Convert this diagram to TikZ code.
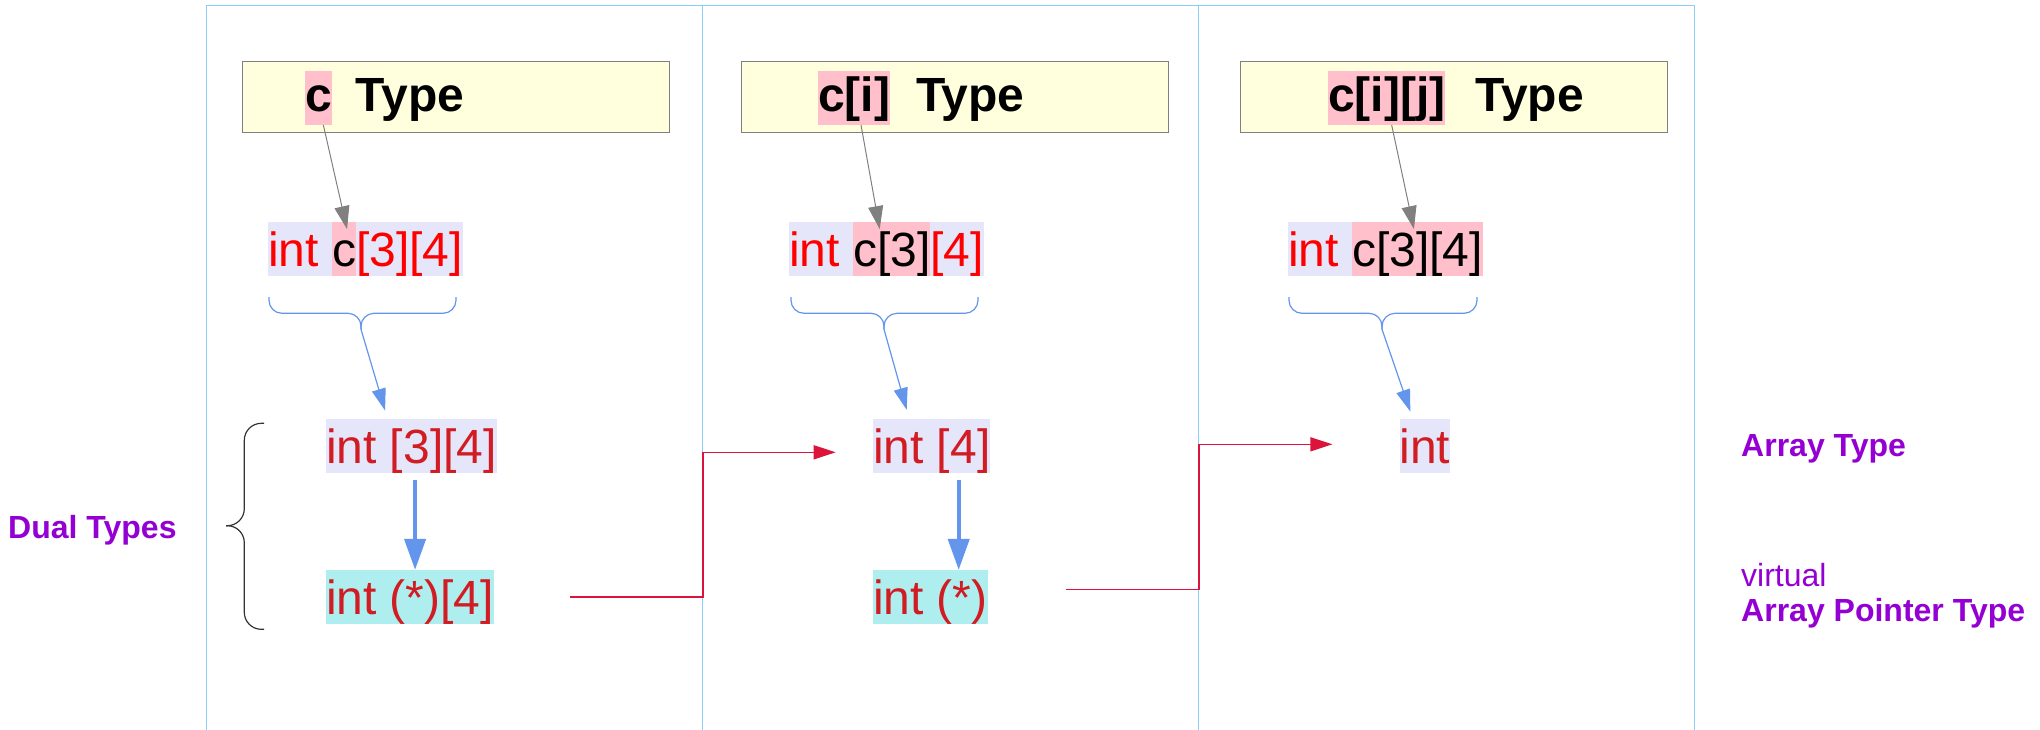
\documentclass[tikz,border=0pt]{standalone}
\usepackage{fontspec}
\setmainfont{Liberation Sans}
\usetikzlibrary{arrows.meta,positioning}
\definecolor{panelblue}{HTML}{87CEFA}
\definecolor{titleyellow}{HTML}{FFFFDD}
\definecolor{lav}{HTML}{E6E6FA}
\definecolor{pinkhl}{HTML}{FFC0CB}
\definecolor{turq}{HTML}{AFEEEE}
\definecolor{darkred}{HTML}{D01C22}
\definecolor{violet}{HTML}{9400D3}
\definecolor{cblue}{HTML}{6495ED}
\definecolor{crim}{HTML}{DC143C}
\tikzstyle{panel}=[draw=panelblue,
line width=1.2pt]
\tikzstyle{titlebox}=[rectangle,
draw=gray,
fill=titleyellow,
line width=0.8pt,
minimum width=427pt,
minimum height=71.4pt]
\tikzstyle{piece}=[inner sep=0pt,
outer sep=0pt,
font=\fontsize{48pt}{50pt}\selectfont,
text height=44.6pt,
text depth=9.4pt]
\tikzstyle{titlepiece}=[inner sep=0pt,
outer sep=0pt,
font=\fontsize{48pt}{50pt}\selectfont\bfseries,
text height=40.7pt,
text depth=13.3pt]
\tikzstyle{lavpiece}=[piece,
fill=lav]
\tikzstyle{pinkpiece}=[piece,
fill=pinkhl]
\tikzstyle{turqpiece}=[piece,
fill=turq]
\tikzstyle{sidelabel}=[inner sep=0pt,
anchor=base west,
text=violet,
font=\fontsize{32pt}{34pt}\selectfont]
\tikzstyle{boldlabel}=[sidelabel,
font=\fontsize{32pt}{34pt}\selectfont\bfseries]
\tikzstyle{grayarrow}=[->,
>={Triangle[length=23pt,width=15pt]},
draw=gray,
line width=1pt]
\tikzstyle{bluearrow}=[->,
>={Triangle[length=22pt,width=14pt]},
draw=cblue,
line width=1.2pt]
\tikzstyle{thickarrow}=[->,
>={Triangle[length=31pt,width=21pt]},
draw=cblue,
line width=4pt]
\tikzstyle{redarrow}=[->,
>={Triangle[length=22pt,width=14pt]},
draw=crim,
line width=1.5pt]
\tikzstyle{bluebrace}=[draw=cblue,
line width=1.2pt,
rounded corners=13pt]
\tikzstyle{blackbrace}=[draw=black!80,
line width=1.2pt,
rounded corners=17pt]

\begin{document}
\begin{tikzpicture}[>=latex,x=1pt,y=-1pt]
	% the page, in pixels of the reference
	\useasboundingbox (0,0) rectangle (2040,729);
	
	% Three panels side by side
	\foreach \x in {206.5,702.5,1198.5}
	\draw[panel] (\x,5.5) rectangle ++(496,740);
	
	% First line: the type titles
	\node (tb1) [titlebox] at (455.8,97) {};
	\node (tb2) [titlebox] at (955,97) {};
	\node (tb3) [titlebox] at (1454,97) {};
	\node (t1c) [titlepiece,fill=pinkhl,anchor=base west] at (305,111.7) {c};
	\node (t1t) [titlepiece,right=24pt of t1c] {Type};
	\node (t2c) [titlepiece,fill=pinkhl,anchor=base west] at (818,111.7) {c[i]};
	\node (t2t) [titlepiece,right=26pt of t2c] {Type};
	\node (t3c) [titlepiece,fill=pinkhl,anchor=base west] at (1328,111.7) {c[i][j]};
	\node (t3t) [titlepiece,right=30pt of t3c] {Type};
	
	% Second line: the declaration, highlighted part by part
	\node (d1a) [lavpiece,text=red,anchor=base west] at (268,266.7) {int\ \null};
	\node (d1b) [pinkpiece,right=0pt of d1a] {c};
	\node (d1c) [lavpiece,text=red,right=0pt of d1b] {[3][4]};
	\node (d2a) [lavpiece,text=red,anchor=base west] at (789,266.7) {int\ \null};
	\node (d2b) [pinkpiece,right=0pt of d2a] {c[3]};
	\node (d2c) [lavpiece,text=red,right=0pt of d2b] {[4]};
	\node (d3a) [lavpiece,text=red,anchor=base west] at (1288,266.7) {int\ \null};
	\node (d3b) [pinkpiece,right=0pt of d3a] {c[3][4]};
	
	% Third line: array types
	\node (m1) [lavpiece,text=darkred,anchor=base west] at (326,463.5) {int [3][4]};
	\node (m2) [lavpiece,text=darkred,anchor=base west] at (873,463.5) {int [4]};
	\node (m3) [lavpiece,text=darkred,anchor=base west] at (1399.6,463.5) {int};
	
	% Fourth line: array pointer types
	\node (p1) [turqpiece,text=darkred,anchor=base west] at (326,614.5) {int (*)[4]};
	\node (p2) [turqpiece,text=darkred,anchor=base west] at (873,614.5) {int (*)};
	
	% Labels at the sides
	\node (dual) [boldlabel] at (8,538.3) {Dual Types};
	\node (arr) [boldlabel] at (1741,456.7) {Array Type};
	\node (virt) [sidelabel] at (1741,586.7) {virtual};
	\node (arrp) [boldlabel] at (1741,621.7) {Array Pointer Type};
	
	% Braces under the declarations
	\foreach \l/\m/\r/\n in {269/361/456/1,791/884/978/2,1289/1382/1477/3} {
		\draw[bluebrace] (\l,297) -- (\l,313.3) -- (\m,313.3) -- (\m,329.3);
		\draw[bluebrace] (\m,329.3) -- (\m,313.3) -- (\r,313.3) -- (\r,297);
		\coordinate (bt\n) at (\m,329.3);
	}
	\draw[blackbrace] (264,423.3) -- (244.3,423.3) -- (244.3,525.7) -- (226,525.7);
	\draw[blackbrace] (226,525.7) -- (244.3,525.7) -- (244.3,629.3) -- (264,629.3);
	
	% The diagram elements are now connected through arrows
	\draw[grayarrow] ([xshift=5pt]t1c.south) -- ([xshift=3pt,yshift=-7pt]d1b.north);
	\draw[grayarrow] ([xshift=7pt]t2c.south) -- ([xshift=-12pt,yshift=-7pt]d2b.north);
	\draw[grayarrow] ([xshift=5pt]t3c.south) -- ([xshift=-3.5pt,yshift=-7pt]d3b.north);
	
	\draw[bluearrow] (bt1) -- ([xshift=-26.3pt,yshift=8.3pt]m1.north);
	\draw[bluearrow] (bt2) -- ([xshift=-25pt,yshift=9pt]m2.north);
	\draw[bluearrow] (bt3) -- ([xshift=-14.6pt,yshift=7.3pt]m3.north);
	
	\draw[thickarrow] ([xshift=3.7pt,yshift=-7pt]m1.south) -- ([xshift=3.7pt]m1.south |- p1.north);
	\draw[thickarrow] ([xshift=27pt,yshift=-7pt]m2.south) -- ([xshift=27pt]m2.south |- p2.north);
	
	\draw[redarrow] ([xshift=76pt]p1.east) -- ++(133pt,0) |- ([xshift=-37.3pt,yshift=-6.4pt]m2.west);
	\draw[redarrow] ([xshift=78.3pt,yshift=7.6pt]p2.east) -- ++(133pt,0) |- ([xshift=-67.2pt,yshift=1.6pt]m3.west);
\end{tikzpicture}
\end{document}
